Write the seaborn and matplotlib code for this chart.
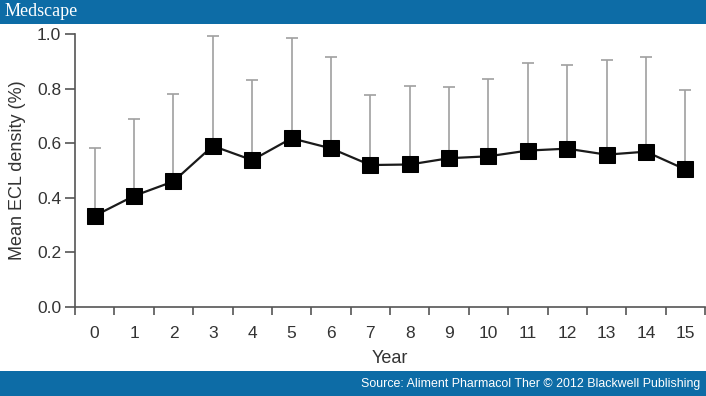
import numpy as np
import pandas as pd
import matplotlib
matplotlib.use("Agg")
import matplotlib.pyplot as plt
import seaborn as sns
from matplotlib.patches import Rectangle

# --- data ---
years = list(range(16))
mean_density = [0.334, 0.407, 0.460, 0.590, 0.538, 0.618, 0.581, 0.520,
                0.522, 0.545, 0.552, 0.573, 0.580, 0.558, 0.569, 0.504]
sd_upper = [0.247, 0.281, 0.320, 0.401, 0.293, 0.368, 0.333, 0.255,
            0.289, 0.262, 0.282, 0.321, 0.307, 0.347, 0.345, 0.291]
y_ticks = [0.0, 0.2, 0.4, 0.6, 0.8, 1.0]

df = pd.DataFrame({"Year": years, "Mean": mean_density, "SD": sd_upper})

sns.set_theme(style="ticks")
plt.rcParams['font.family'] = ['Liberation Sans', 'DejaVu Sans']

banner = "#0d6ca6"
axis_grey = "#555555"
text_grey = "#333333"

fig = plt.figure(figsize=(7.06, 3.96), dpi=100)
fig.patch.set_facecolor("white")

# top and bottom banners
fig.add_artist(Rectangle((0, 1 - 24 / 396), 1, 24 / 396, transform=fig.transFigure,
                         facecolor=banner, edgecolor="none"))
fig.add_artist(Rectangle((0, 0), 1, 25 / 396, transform=fig.transFigure,
                         facecolor=banner, edgecolor="none"))
fig.text(5 / 706, 1 - 12 / 396, "Medscape", color="white", fontsize=13,
         family=["Liberation Serif", "DejaVu Serif"], va="center", ha="left")
fig.text(700 / 706, 12.5 / 396, "Source: Aliment Pharmacol Ther \u00a9 2012 Blackwell Publishing",
         color="white", fontsize=8.9, va="center", ha="right")

ax = fig.add_axes([75 / 706, 1 - 307 / 396, 630 / 706, 273 / 396])

# upper-only SD bars
ax.errorbar(df["Year"], df["Mean"], yerr=[np.zeros(len(df)), df["SD"]],
            fmt="none", ecolor="#a0a0a0", elinewidth=1.2, capsize=4, capthick=1.2,
            zorder=1)
sns.lineplot(data=df, x="Year", y="Mean", ax=ax, color="#1a1a1a", linewidth=1.6,
             marker="s", markersize=11, markeredgecolor="black",
             markerfacecolor="black", zorder=3)

ax.set_xlim(-0.5, 15.5)
ax.set_ylim(0, 1.0)
ax.set_xticks(years)
ax.set_xticks(np.arange(-0.5, 16, 1), minor=True)
ax.set_yticks(y_ticks)
ax.set_yticklabels([f"{v:.1f}" for v in y_ticks])
ax.tick_params(axis="x", which="major", length=0, pad=14, labelsize=12.5, labelcolor=text_grey)
ax.tick_params(axis="x", which="minor", length=6, width=1.2, color=axis_grey, direction="out")
ax.tick_params(axis="y", length=7, width=1.2, color=axis_grey, labelsize=12.5,
               labelcolor=text_grey, pad=3)

for side in ["top", "right"]:
    ax.spines[side].set_visible(False)
for side in ["left", "bottom"]:
    ax.spines[side].set_color(axis_grey)
    ax.spines[side].set_linewidth(1.2)

ax.set_xlabel("Year", fontsize=13, color=text_grey, labelpad=6)
ax.set_ylabel("Mean ECL density (%)", fontsize=13, color=text_grey, labelpad=8)

fig.savefig("out.png", dpi=100)
